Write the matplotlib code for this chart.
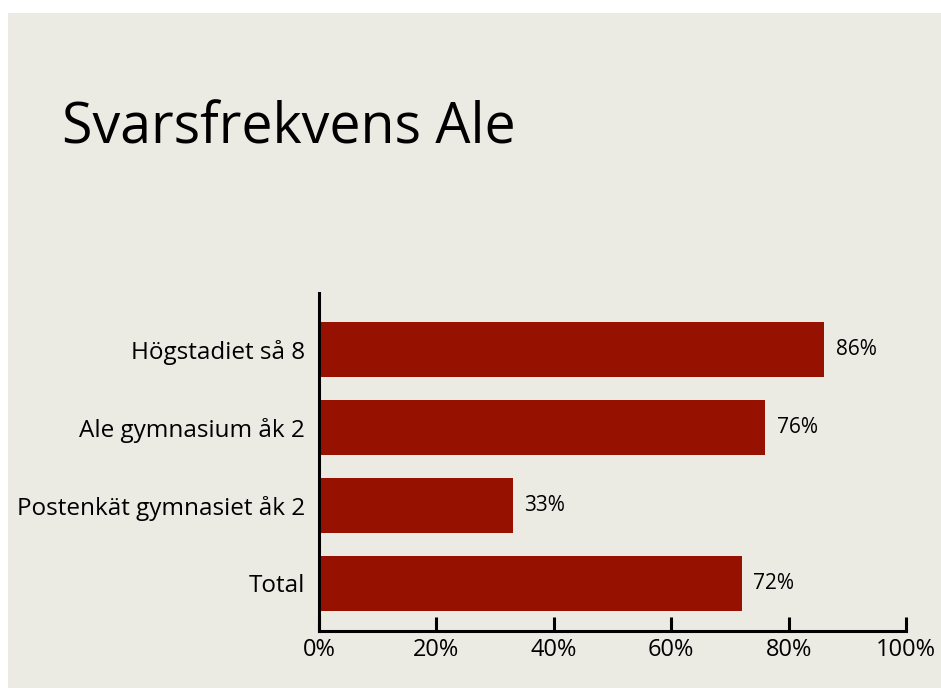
import matplotlib
matplotlib.use("Agg")
import matplotlib.pyplot as plt
from matplotlib.patches import Rectangle

# svarsfrekvens per enkät
categories = ["Högstadiet så 8", "Ale gymnasium åk 2", "Postenkät gymnasiet åk 2", "Total"]
values = [86, 76, 33, 72]
xticks = [0, 20, 40, 60, 80, 100]

bg = "#ebeae3"
barcolor = "#961100"
plt.rcParams["font.family"] = ["Open Sans", "DejaVu Sans"]

fig = plt.figure(figsize=(9.41, 6.88), dpi=100)
fig.patch.set_facecolor("white")
fig.patches.append(Rectangle((8 / 941, 0), 1, 1 - 13 / 688, transform=fig.transFigure,
                             facecolor=bg, edgecolor="none", zorder=-10))

ax = fig.add_axes([319 / 941, 57 / 688, 587 / 941, 338 / 688])
ax.set_facecolor("none")

ypos = list(range(len(categories)))[::-1]
ax.barh(ypos, values, height=0.705, color=barcolor)
for y, v in zip(ypos, values):
    ax.text(v + 2, y, f"{v}%", va="center", ha="left", fontsize=15)

ax.set_xlim(0, 100)
ax.set_ylim(-0.61, 3.72)
ax.set_xticks(xticks)
ax.set_xticklabels([f"{t}%" for t in xticks], fontsize=17)
ax.set_yticks(ypos)
ax.set_yticklabels(categories, fontsize=17.5)

for s in ["top", "right"]:
    ax.spines[s].set_visible(False)
for s in ["left", "bottom"]:
    ax.spines[s].set_linewidth(2.2)
ax.tick_params(axis="x", direction="in", length=10, width=2.2, pad=5)
ax.tick_params(axis="y", length=0, pad=10)

fig.text(62 / 941, 1 - 143 / 688, "Svarsfrekvens Ale", fontsize=40, ha="left", va="baseline")

fig.savefig("out.png", dpi=100)
